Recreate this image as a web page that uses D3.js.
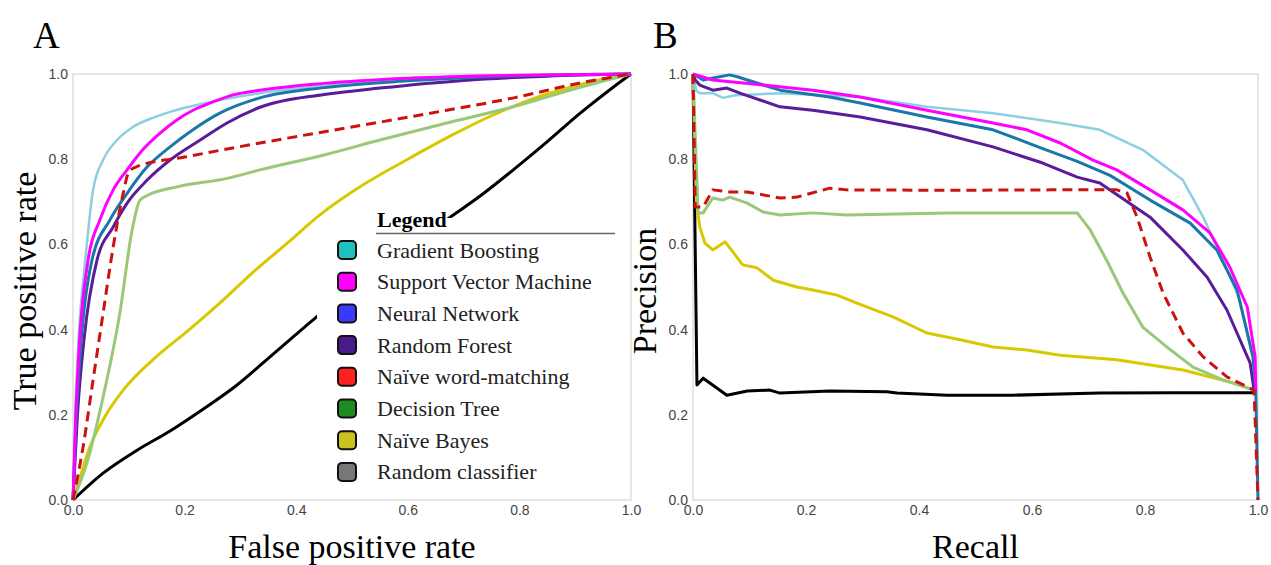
<!DOCTYPE html>
<html>
<head>
<meta charset="utf-8">
<script src="https://cdn.jsdelivr.net/npm/d3@7"></script>
<style>
  body { margin: 0; background: #fff; }
  svg { display: block; }
  .tick text { font-family: "Liberation Sans", Arial, sans-serif; fill: #444; }
</style>
</head>
<body>
<svg width="1271" height="565"></svg>
<script>
// series names & colours
const modelNames = ["Gradient Boosting", "Support Vector Machine", "Neural Network", "Random Forest",
    "Naïve word-matching", "Decision Tree", "Naïve Bayes", "Random classifier"];
const swatchColors = ["#1fc0c0", "#ff00ff", "#3a3aff", "#4a1a8c", "#ff2020", "#1f8a1f", "#c8c21e", "#777777"];
const lineColors = ["#8ccfe0", "#ff00ff", "#1a78a8", "#5a1d9a", "#cc1111", "#99c878", "#d9c800", "#000000"];
const ticks = [0, 0.2, 0.4, 0.6, 0.8, 1.0];

// ROC curves (x = FPR, y = TPR)
const rocGB = [[0,0],[0.004,0.2],[0.01,0.38],[0.022,0.563],[0.036,0.728],[0.054,0.798],[0.079,0.845],[0.108,0.876],[0.143,0.897],[0.174,0.911],[0.246,0.934],[0.335,0.955],[0.45,0.972],[0.6,0.986],[0.8,0.996],[1,1]];
const rocSVM = [[0,0],[0.005,0.2],[0.012,0.38],[0.027,0.563],[0.048,0.657],[0.072,0.728],[0.097,0.775],[0.125,0.822],[0.156,0.861],[0.186,0.892],[0.215,0.915],[0.246,0.932],[0.287,0.951],[0.335,0.962],[0.45,0.978],[0.6,0.99],[0.8,0.997],[1,1]];
const rocNN = [[0,0],[0.006,0.2],[0.015,0.38],[0.034,0.563],[0.066,0.657],[0.097,0.72],[0.133,0.782],[0.174,0.829],[0.215,0.869],[0.263,0.908],[0.335,0.944],[0.45,0.968],[0.6,0.984],[0.8,0.996],[1,1]];
const rocRF = [[0,0],[0.008,0.2],[0.02,0.38],[0.043,0.563],[0.072,0.641],[0.097,0.697],[0.133,0.751],[0.174,0.798],[0.228,0.845],[0.276,0.885],[0.335,0.922],[0.45,0.952],[0.55,0.967],[0.7,0.985],[0.85,0.995],[1,1]];
const rocWord = [[0,0],[0.018,0.124],[0.036,0.282],[0.054,0.439],[0.072,0.594],[0.09,0.72],[0.1,0.77],[0.115,0.783],[0.2,0.805],[0.335,0.838],[0.55,0.887],[0.67,0.915],[0.79,0.944],[0.909,0.979],[1,1]];
const rocDT = [[0,0],[0.025,0.087],[0.054,0.242],[0.084,0.439],[0.106,0.634],[0.12,0.704],[0.135,0.716],[0.186,0.735],[0.276,0.755],[0.335,0.775],[0.45,0.81],[0.55,0.845],[0.67,0.885],[0.789,0.923],[0.909,0.969],[1,1]];
const rocNB = [[0,0],[0.004,0.016],[0.03,0.124],[0.061,0.204],[0.09,0.258],[0.143,0.329],[0.204,0.395],[0.263,0.462],[0.323,0.535],[0.384,0.603],[0.443,0.67],[0.52,0.74],[0.6,0.8],[0.68,0.857],[0.75,0.902],[0.82,0.94],[0.9,0.972],[0.968,0.993],[1,1]];
const rocRand = [[0,0],[0.054,0.063],[0.115,0.117],[0.174,0.162],[0.233,0.213],[0.294,0.27],[0.353,0.336],[0.434,0.427],[0.55,0.55],[0.676,0.664],[0.729,0.713],[0.789,0.775],[0.849,0.84],[0.909,0.908],[0.968,0.969],[1,1]];

// precision-recall curves (x = recall, y = precision)
const prGB = [[0,1],[0.006,0.96],[0.012,0.955],[0.035,0.955],[0.053,0.944],[0.075,0.95],[0.096,0.951],[0.154,0.955],[0.296,0.946],[0.414,0.923],[0.531,0.908],[0.65,0.885],[0.72,0.869],[0.796,0.822],[0.867,0.751],[0.903,0.664],[0.938,0.563],[0.968,0.469],[0.991,0.336],[0.995,0.258]];
const prSVM = [[0,1],[0.035,0.986],[0.124,0.974],[0.212,0.962],[0.296,0.946],[0.414,0.915],[0.531,0.885],[0.591,0.869],[0.65,0.838],[0.708,0.798],[0.75,0.775],[0.809,0.728],[0.867,0.681],[0.915,0.627],[0.95,0.547],[0.981,0.453],[0.995,0.336],[0.996,0.258]];
const prNN = [[0,1],[0.018,0.986],[0.04,0.992],[0.065,0.998],[0.08,0.993],[0.096,0.986],[0.154,0.962],[0.242,0.946],[0.296,0.932],[0.414,0.899],[0.531,0.869],[0.619,0.825],[0.68,0.795],[0.738,0.762],[0.809,0.704],[0.88,0.65],[0.927,0.587],[0.963,0.493],[0.991,0.336],[0.996,0.258],[1,0]];
const prRF = [[0,1],[0.004,0.986],[0.012,0.974],[0.035,0.962],[0.06,0.967],[0.083,0.955],[0.154,0.923],[0.212,0.915],[0.296,0.899],[0.414,0.869],[0.531,0.829],[0.619,0.791],[0.68,0.758],[0.72,0.744],[0.809,0.664],[0.867,0.587],[0.91,0.523],[0.945,0.446],[0.986,0.322],[0.993,0.258]];
const prWord = [[0,1],[0.004,0.688],[0.018,0.688],[0.035,0.728],[0.065,0.723],[0.096,0.723],[0.154,0.709],[0.184,0.711],[0.242,0.732],[0.272,0.728],[0.45,0.727],[0.632,0.728],[0.75,0.728],[0.768,0.721],[0.786,0.664],[0.809,0.57],[0.832,0.486],[0.867,0.392],[0.903,0.336],[0.945,0.289],[0.993,0.258],[1,0]];
const prDT = [[0,1],[0.009,0.674],[0.018,0.674],[0.035,0.709],[0.053,0.704],[0.065,0.711],[0.096,0.697],[0.124,0.676],[0.154,0.669],[0.212,0.674],[0.272,0.669],[0.45,0.674],[0.68,0.674],[0.703,0.634],[0.732,0.563],[0.761,0.486],[0.796,0.406],[0.839,0.359],[0.885,0.312],[0.938,0.282],[0.993,0.258]];
const prNB = [[0,1],[0.006,0.7],[0.012,0.641],[0.021,0.603],[0.035,0.587],[0.057,0.606],[0.088,0.552],[0.113,0.545],[0.142,0.516],[0.184,0.5],[0.212,0.493],[0.255,0.481],[0.29,0.462],[0.354,0.43],[0.414,0.392],[0.473,0.376],[0.531,0.359],[0.591,0.352],[0.65,0.34],[0.75,0.329],[0.867,0.305],[0.956,0.275],[0.993,0.258]];
const prRand = [[0,1],[0.007,0.27],[0.018,0.286],[0.06,0.246],[0.096,0.256],[0.136,0.258],[0.154,0.251],[0.242,0.256],[0.343,0.254],[0.361,0.251],[0.45,0.246],[0.566,0.246],[0.72,0.251],[0.85,0.252],[0.993,0.252]];

const rocSeries = [rocGB, rocSVM, rocNN, rocRF, rocWord, rocDT, rocNB, rocRand];
const prSeries = [prGB, prSVM, prNN, prRF, prWord, prDT, prNB, prRand];
// drawing order: index into series (bottom first)
const drawOrder = [7, 6, 5, 0, 3, 2, 1, 4];

const svg = d3.select("svg");
const panelHeight = { top: 74, bottom: 500 };
const serif = "Liberation Serif, Times New Roman, serif";

function drawPanel(left, right, series, xTitle, yTitle, letter, smooth) {
    const x = d3.scaleLinear().domain([0, 1]).range([left, right]);
    const y = d3.scaleLinear().domain([0, 1]).range([panelHeight.bottom, panelHeight.top]);
    const g = svg.append("g");

    // plot frame
    g.append("rect")
        .attr("x", left).attr("y", panelHeight.top)
        .attr("width", right - left).attr("height", panelHeight.bottom - panelHeight.top)
        .attr("fill", "none").attr("stroke", "#dedede").attr("stroke-width", 1.5);

    const xAxis = g.append("g")
        .attr("transform", `translate(0,${panelHeight.bottom})`)
        .call(d3.axisBottom(x).tickValues(ticks).tickFormat(d3.format(".1f")).tickSize(0).tickPadding(5));
    const yAxis = g.append("g")
        .attr("transform", `translate(${left},0)`)
        .call(d3.axisLeft(y).tickValues(ticks).tickFormat(d3.format(".1f")).tickSize(0).tickPadding(5));
    xAxis.select(".domain").remove();
    yAxis.select(".domain").remove();
    g.selectAll(".tick text").attr("font-size", 14);

    const line = d3.line()
        .x(d => x(d[0]))
        .y(d => y(d[1]))
        .curve(smooth ? d3.curveMonotoneX : d3.curveLinear);

    drawOrder.forEach(i => {
        g.append("path")
            .datum(series[i])
            .attr("fill", "none")
            .attr("stroke", lineColors[i])
            .attr("stroke-width", i === 0 ? 2.5 : 3)
            .attr("stroke-linejoin", "round")
            .attr("stroke-dasharray", i === 4 ? "10 6" : null)
            .attr("d", line);
    });

    // axis titles
    g.append("text")
        .attr("x", (left + right) / 2).attr("y", 558)
        .attr("text-anchor", "middle")
        .attr("font-family", serif)
        .attr("font-size", 34)
        .text(xTitle);
    g.append("text")
        .attr("transform", `translate(${left - 37},${(panelHeight.top + panelHeight.bottom) / 2 + 4}) rotate(-90)`)
        .attr("text-anchor", "middle")
        .attr("font-family", serif)
        .attr("font-size", 34)
        .text(yTitle);
    g.append("text")
        .attr("x", left - 40).attr("y", 48)
        .attr("font-family", serif)
        .attr("font-size", 37)
        .text(letter);
    return g;
}

const gA = drawPanel(73, 631, rocSeries, "False positive rate", "True positive rate", "A", true);
drawPanel(693, 1258, prSeries, "Recall", "Precision", "B", false);

// legend (panel A) with white background
const legend = gA.append("g");
legend.append("rect")
    .attr("x", 317).attr("y", 218).attr("width", 300).attr("height", 270)
    .attr("fill", "#fff");
legend.append("text")
    .attr("x", 377).attr("y", 227)
    .attr("font-family", serif)
    .attr("font-weight", "bold").attr("font-size", 22)
    .text("Legend");
legend.append("line")
    .attr("x1", 376).attr("x2", 615).attr("y1", 233.5).attr("y2", 233.5)
    .attr("stroke", "#666").attr("stroke-width", 1.5);

const rows = legend.selectAll(".row")
    .data(modelNames)
    .enter().append("g")
    .attr("class", "row")
    .attr("transform", (d, i) => `translate(0,${250 + i * 31.7})`);
rows.append("rect")
    .attr("x", 338).attr("y", -9).attr("width", 18).attr("height", 18)
    .attr("rx", 4)
    .attr("fill", (d, i) => swatchColors[i])
    .attr("stroke", "#111").attr("stroke-width", 2);
rows.append("text")
    .attr("x", 377).attr("y", 7.5)
    .attr("font-family", serif)
    .attr("font-size", 22)
    .attr("fill", "#222")
    .text(d => d);
</script>
</body>
</html>
